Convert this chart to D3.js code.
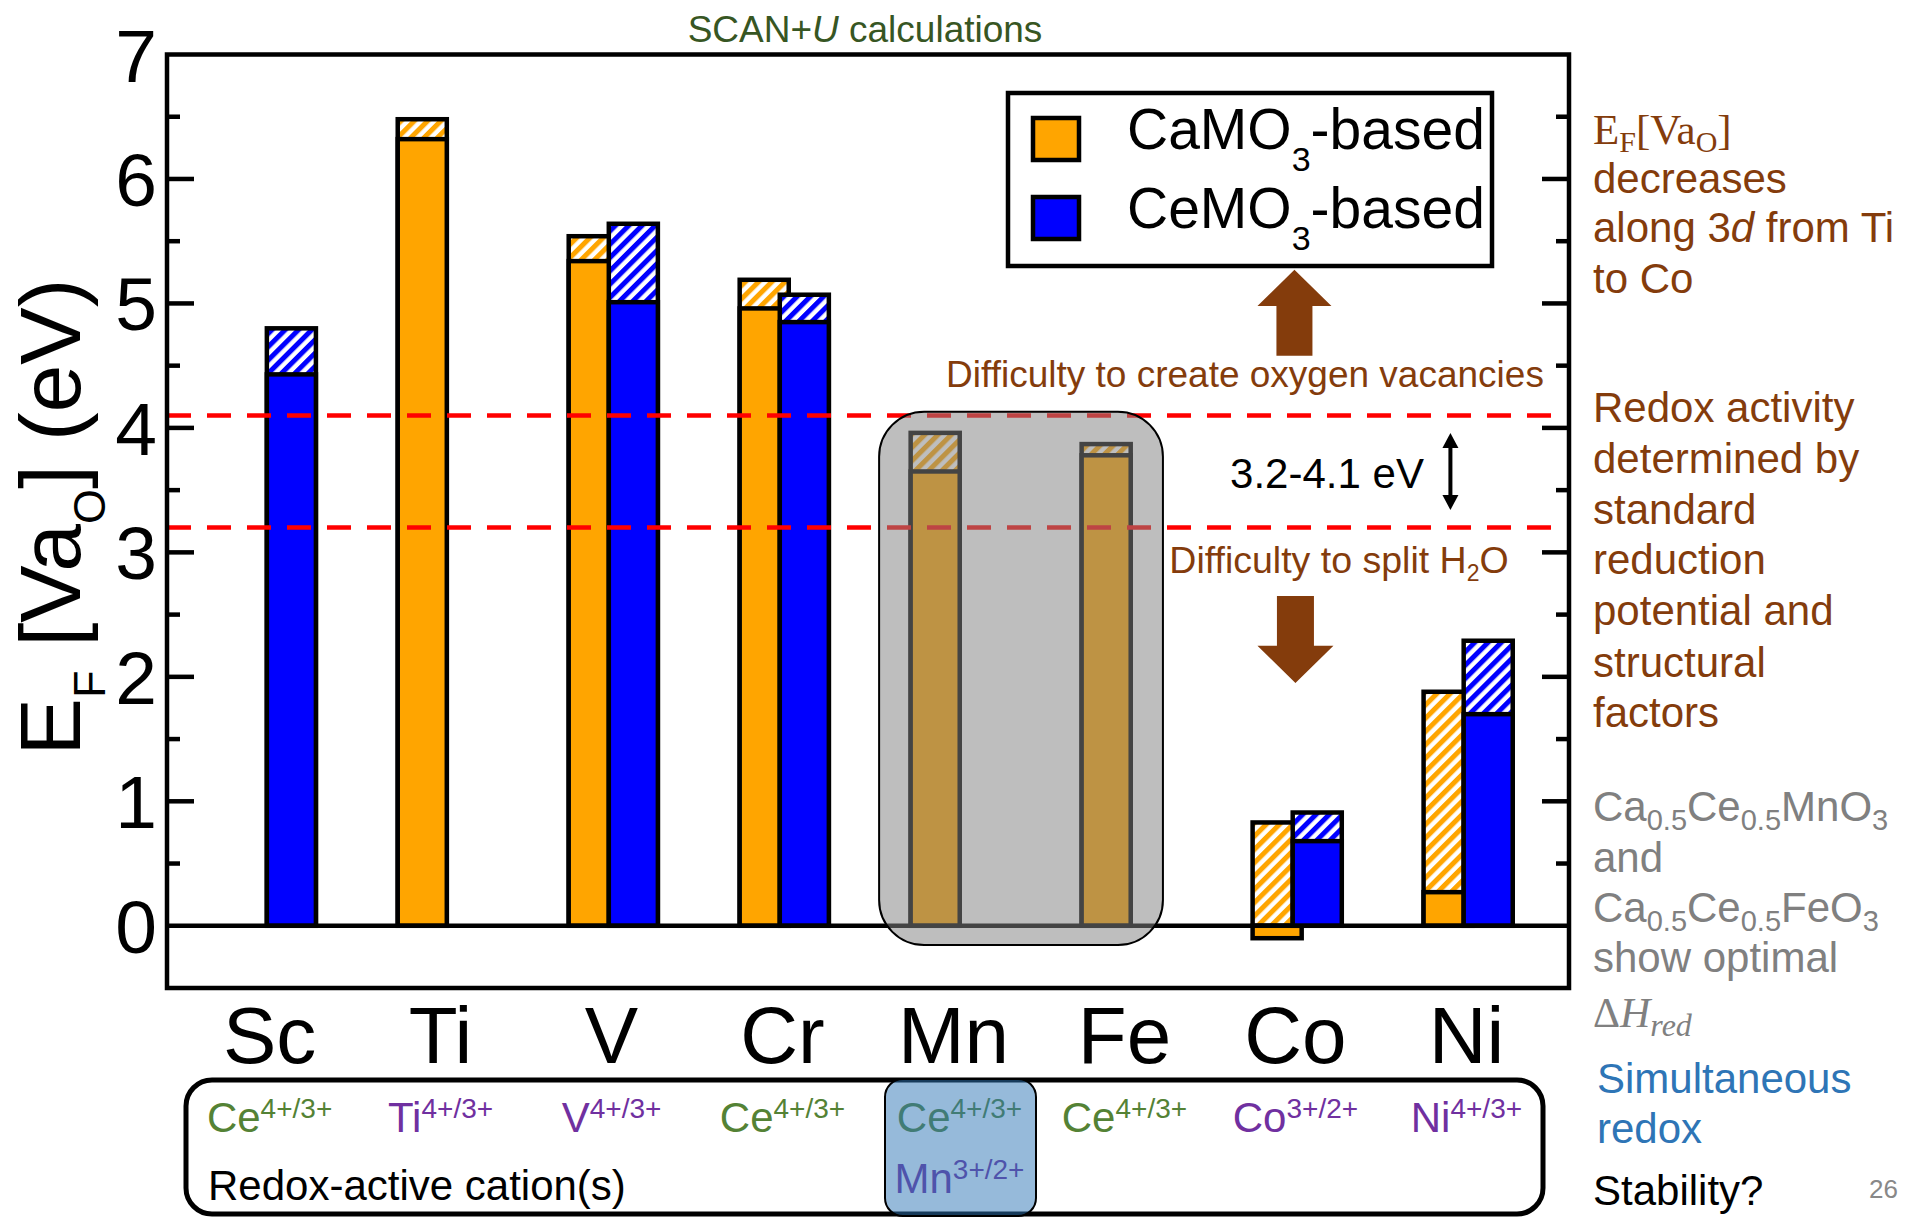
<!DOCTYPE html>
<html>
<head>
<meta charset="utf-8">
<script src="https://cdn.jsdelivr.net/npm/d3@7"></script>
<style>
  body { margin: 0; background: #fff; }
  svg { display: block; }
  text { font-family: "Liberation Sans", Arial, Helvetica, sans-serif; }
</style>
</head>
<body>
<svg id="chart" width="1907" height="1218"></svg>
<script>
// ---- data -------------------------------------------------------------
const categories = ["Sc", "Ti", "V", "Cr", "Mn", "Fe", "Co", "Ni"];
// E_F[Va_O] (eV): lower value (solid part) and upper value (hatched top)
const caLower = [null, 6.32, 5.34, 4.96, 3.65, 3.78, -0.10, 0.27];
const caUpper = [null, 6.48, 5.54, 5.19, 3.96, 3.87, 0.83, 1.88];
const ceLower = [4.43, null, 5.01, 4.85, null, null, 0.68, 1.70];
const ceUpper = [4.80, null, 5.64, 5.07, null, null, 0.91, 2.29];
const seriesNames = ["CaMO", "CeMO"];
const yMajorTicks = [0, 1, 2, 3, 4, 5, 6, 7];
const yMinorTicks = [0.5, 1.5, 2.5, 3.5, 4.5, 5.5, 6.5];
const windowBounds = [3.2, 4.1];
const optimalCats = ["Mn", "Fe"];
const redoxActive = [
  [["Ce", "4+/3+"]],
  [["Ti", "4+/3+"]],
  [["V", "4+/3+"]],
  [["Ce", "4+/3+"]],
  [["Ce", "4+/3+"], ["Mn", "3+/2+"]],
  [["Ce", "4+/3+"]],
  [["Co", "3+/2+"]],
  [["Ni", "4+/3+"]]
];

// ---- styles ----------------------------------------------------------
const ORANGE = "#ffa500", BLUE = "#0000ff", BROWN = "#843c0c";
const GREEN = "#548235", PURPLE = "#7030a0", GREY = "#808080";

const svg = d3.select("#chart");
const M = { left: 167, right: 1569, top: 54.5, bottom: 988 };

const x = d3.scalePoint().domain(categories).range([M.left, M.right]).padding(0.6);
const y = d3.scaleLinear().domain([-0.5, 7]).range([M.bottom, M.top]);
const step = x.step();
const barW = 0.287 * step;
const offsets = [-0.107 * step, 0.1275 * step];
const fills = [ORANGE, BLUE];

// hatch patterns
const defs = svg.append("defs");
fills.forEach((c, i) => {
  const p = defs.append("pattern")
    .attr("id", "hatch" + i)
    .attr("patternUnits", "userSpaceOnUse")
    .attr("width", 9.4).attr("height", 9.4)
    .attr("patternTransform", "rotate(45)");
  p.append("rect").attr("width", 9.4).attr("height", 9.4).attr("fill", "#fff");
  p.append("rect").attr("width", 5).attr("height", 9.4).attr("fill", c);
});

// ---- bars ------------------------------------------------------------
const series = [
  { lower: caLower, upper: caUpper },
  { lower: ceLower, upper: ceUpper }
];
const gBars = svg.append("g");
series.forEach((s, si) => {
  const rows = categories.map((c, i) => ({ c, lo: s.lower[i], up: s.upper[i] }))
    .filter(d => d.lo !== null);
  const g = gBars.append("g");
  // hatched full-height bar (0 -> upper)
  g.selectAll("rect.h").data(rows).join("rect")
    .attr("x", d => x(d.c) + offsets[si] - barW / 2)
    .attr("width", barW)
    .attr("y", d => y(Math.max(0, d.up)))
    .attr("height", d => Math.abs(y(d.up) - y(0)))
    .attr("fill", `url(#hatch${si})`)
    .attr("stroke", "#000").attr("stroke-width", 4.5);
  // solid bar (0 -> lower)
  g.selectAll("rect.s").data(rows).join("rect")
    .attr("x", d => x(d.c) + offsets[si] - barW / 2)
    .attr("width", barW)
    .attr("y", d => y(Math.max(0, d.lo)))
    .attr("height", d => Math.abs(y(d.lo) - y(0)))
    .attr("fill", fills[si])
    .attr("stroke", "#000").attr("stroke-width", 4.5);
});

// zero line
svg.append("line")
  .attr("x1", M.left).attr("x2", M.right)
  .attr("y1", y(0)).attr("y2", y(0))
  .attr("stroke", "#000").attr("stroke-width", 4.5);

// redox window bounds
svg.append("g").selectAll("line").data(windowBounds).join("line")
  .attr("x1", M.left).attr("x2", M.right)
  .attr("y1", d => y(d)).attr("y2", d => y(d))
  .attr("stroke", "#ff0000").attr("stroke-width", 4.5)
  .attr("stroke-dasharray", "24,16");

// highlight of the optimal compositions
{
  const x0 = x(optimalCats[0]) - 0.435 * step;
  const x1 = x(optimalCats[1]) + 0.225 * step;
  svg.append("rect")
    .attr("x", x0).attr("width", x1 - x0)
    .attr("y", y(4.13)).attr("height", y(-0.155) - y(4.13))
    .attr("rx", 45).attr("ry", 45)
    .attr("fill", "rgb(131,131,131)").attr("fill-opacity", 0.52)
    .attr("stroke", "#000").attr("stroke-width", 2);
}

// ---- frame and axes ----------------------------------------------------
svg.append("rect")
  .attr("x", M.left).attr("y", M.top)
  .attr("width", M.right - M.left).attr("height", M.bottom - M.top)
  .attr("fill", "none").attr("stroke", "#000").attr("stroke-width", 4.5);

const gTicks = svg.append("g").attr("stroke", "#000").attr("stroke-width", 4.5);
yMajorTicks.filter(v => v > 0 && v < 7).forEach(v => {
  gTicks.append("line").attr("x1", M.left).attr("x2", M.left + 27).attr("y1", y(v)).attr("y2", y(v));
  gTicks.append("line").attr("x1", M.right).attr("x2", M.right - 27).attr("y1", y(v)).attr("y2", y(v));
});
yMinorTicks.forEach(v => {
  gTicks.append("line").attr("x1", M.left).attr("x2", M.left + 13).attr("y1", y(v)).attr("y2", y(v));
  gTicks.append("line").attr("x1", M.right).attr("x2", M.right - 13).attr("y1", y(v)).attr("y2", y(v));
});

svg.append("g").selectAll("text").data(yMajorTicks).join("text")
  .attr("x", M.left - 10).attr("y", d => y(d))
  .attr("dy", "0.36em")
  .attr("text-anchor", "end")
  .attr("font-size", 75)
  .text(d => d);

// y-axis title
{
  const t = svg.append("text")
    .attr("transform", `translate(80,517) rotate(-90)`)
    .attr("text-anchor", "middle")
    .attr("font-size", 86);
  t.append("tspan").text("E");
  t.append("tspan").attr("font-size", 45).attr("dy", 25).text("F");
  t.append("tspan").attr("dy", -25).text("\u00a0[Va");
  t.append("tspan").attr("font-size", 45).attr("dy", 25).text("O");
  t.append("tspan").attr("dy", -25).text("] (eV)");
}

// category labels
svg.append("g").selectAll("text").data(categories).join("text")
  .attr("x", d => x(d)).attr("y", 1063)
  .attr("text-anchor", "middle")
  .attr("font-size", 80)
  .text(d => d);

// title
{
  const t = svg.append("text")
    .attr("x", 865).attr("y", 42)
    .attr("text-anchor", "middle")
    .attr("font-size", 37)
    .attr("fill", "#375623");
  t.append("tspan").text("SCAN+");
  t.append("tspan").attr("font-style", "italic").text("U");
  t.append("tspan").text(" calculations");
}

// ---- legend ----------------------------------------------------------
{
  const g = svg.append("g");
  g.append("rect").attr("x", 1008).attr("y", 93).attr("width", 484).attr("height", 173)
    .attr("fill", "#fff").attr("stroke", "#000").attr("stroke-width", 4.5);
  seriesNames.forEach((n, i) => {
    const yy = 118 + i * 79;
    g.append("rect").attr("x", 1033).attr("y", yy).attr("width", 46).attr("height", 42)
      .attr("fill", fills[i]).attr("stroke", "#000").attr("stroke-width", 4.5);
    const t = g.append("text").attr("x", 1127).attr("y", 149 + i * 79).attr("font-size", 57);
    t.append("tspan").text(n);
    t.append("tspan").attr("font-size", 34).attr("dy", 22).text("3");
    t.append("tspan").attr("dy", -22).text("-based");
  });
}

// ---- annotations inside the plot ---------------------------------------
{
  const ax = x("Co") - 1;
  const up = [[ax, y(5.27)], [ax + 37, y(4.98)], [ax + 18, y(4.98)], [ax + 18, y(4.58)],
              [ax - 18, y(4.58)], [ax - 18, y(4.98)], [ax - 37, y(4.98)]];
  svg.append("path").attr("d", d3.line()(up) + "Z").attr("fill", BROWN);
  const dx = ax + 1;
  const dn = [[dx, y(1.95)], [dx + 38, y(2.25)], [dx + 18.5, y(2.25)], [dx + 18.5, y(2.65)],
              [dx - 18.5, y(2.65)], [dx - 18.5, y(2.25)], [dx - 38, y(2.25)]];
  svg.append("path").attr("d", d3.line()(dn) + "Z").attr("fill", BROWN);

  svg.append("text").attr("x", 1245).attr("y", 387).attr("text-anchor", "middle")
    .attr("font-size", 37).attr("fill", BROWN)
    .text("Difficulty to create oxygen vacancies");
  const t2 = svg.append("text").attr("x", 1339).attr("y", 573).attr("text-anchor", "middle")
    .attr("font-size", 37.5).attr("fill", BROWN);
  t2.append("tspan").text("Difficulty to split H");
  t2.append("tspan").attr("font-size", 23).attr("dy", 8).text("2");
  t2.append("tspan").attr("dy", -8).text("O");

  svg.append("text").attr("x", 1327).attr("y", 488).attr("text-anchor", "middle")
    .attr("font-size", 42).attr("fill", "#000").text("3.2-4.1 eV");

  // double-headed arrow spanning the window
  const wx = x("Ni") - 16;
  const top = y(3.96), bot = y(3.34);
  svg.append("line").attr("x1", wx).attr("x2", wx).attr("y1", top + 12).attr("y2", bot - 12)
    .attr("stroke", "#000").attr("stroke-width", 4);
  svg.append("path").attr("d", d3.line()([[wx, top], [wx + 8, top + 15], [wx - 8, top + 15]]) + "Z");
  svg.append("path").attr("d", d3.line()([[wx, bot], [wx + 8, bot - 15], [wx - 8, bot - 15]]) + "Z");
}

// ---- redox-active cation panel ----------------------------------------
{
  const g = svg.append("g");
  g.append("rect").attr("x", 186).attr("y", 1080).attr("width", 1357).attr("height", 134)
    .attr("rx", 26).attr("fill", "none").attr("stroke", "#000").attr("stroke-width", 5);
  categories.forEach((c, i) => {
    redoxActive[i].forEach((ion, k) => {
      const t = g.append("text")
        .attr("x", x(c) + (redoxActive[i].length > 1 ? 6 : 0))
        .attr("y", 1132 + k * 61)
        .attr("text-anchor", "middle")
        .attr("font-size", 42)
        .attr("fill", ion[0] === "Ce" ? GREEN : PURPLE);
      t.append("tspan").text(ion[0]);
      t.append("tspan").attr("font-size", 28).attr("dy", -14).text(ion[1]);
    });
  });
  g.append("text").attr("x", 208).attr("y", 1200).attr("font-size", 42).text("Redox-active cation(s)");
  g.append("rect").attr("x", 885).attr("y", 1079).attr("width", 151).attr("height", 137)
    .attr("rx", 18).attr("fill", "rgb(46,117,182)").attr("fill-opacity", 0.5)
    .attr("stroke", "#000").attr("stroke-width", 2);
}

// ---- side notes ----------------------------------------------------------
{
  const sx = 1593;
  const g = svg.append("g").attr("font-size", 42);
  const efm = g.append("text").attr("x", sx).attr("y", 144).attr("fill", BROWN)
    .attr("font-size", 43)
    .style("font-family", '"Liberation Serif", "Times New Roman", serif');
  efm.append("tspan").text("E");
  efm.append("tspan").attr("font-size", 30).attr("dy", 8).text("F");
  efm.append("tspan").attr("dy", -8).text("[Va");
  efm.append("tspan").attr("font-size", 30).attr("dy", 8).text("O");
  efm.append("tspan").attr("dy", -8).text("]");

  const brownLines = [
    [193, "decreases"], [242, null], [293, "to Co"],
    [422, "Redox activity"], [473, "determined by"], [524, "standard"],
    [574, "reduction"], [625, "potential and"], [677, "structural"], [727, "factors"]
  ];
  brownLines.forEach(([yy, s]) => {
    const t = g.append("text").attr("x", sx).attr("y", yy).attr("fill", BROWN);
    if (s) t.text(s);
    else {
      t.append("tspan").text("along 3");
      t.append("tspan").attr("font-style", "italic").text("d");
      t.append("tspan").text(" from Ti");
    }
  });

  // chemical formula with subscripts: parts alternate normal / subscript
  const formula = (yy, parts) => {
    const t = g.append("text").attr("x", sx).attr("y", yy).attr("fill", GREY);
    let shift = 0;
    parts.forEach((p, k) => {
      const sub = k % 2 === 1;
      const target = sub ? 9 : 0;
      t.append("tspan")
        .attr("font-size", sub ? 29 : null)
        .attr("dy", target - shift)
        .text(p);
      shift = target;
    });
  };
  formula(821, ["Ca", "0.5", "Ce", "0.5", "MnO", "3"]);
  g.append("text").attr("x", sx).attr("y", 872).attr("fill", GREY).text("and");
  formula(922, ["Ca", "0.5", "Ce", "0.5", "FeO", "3"]);
  g.append("text").attr("x", sx).attr("y", 972).attr("fill", GREY).text("show optimal");
  const dh = g.append("text").attr("x", sx).attr("y", 1027).attr("fill", GREY)
    .style("font-family", '"Liberation Serif", "Times New Roman", serif');
  dh.append("tspan").text("\u0394");
  dh.append("tspan").attr("font-style", "italic").text("H");
  dh.append("tspan").attr("font-style", "italic").attr("font-size", 32).attr("dy", 9).text("red");

  g.append("text").attr("x", 1597).attr("y", 1093).attr("fill", "#2e75b6").text("Simultaneous");
  g.append("text").attr("x", 1597).attr("y", 1143).attr("fill", "#2e75b6").text("redox");
  g.append("text").attr("x", sx).attr("y", 1205).attr("fill", "#000").text("Stability?");
  svg.append("text").attr("x", 1898).attr("y", 1198).attr("text-anchor", "end")
    .attr("font-size", 26).attr("fill", "#888").text("26");
}
</script>
</body>
</html>
